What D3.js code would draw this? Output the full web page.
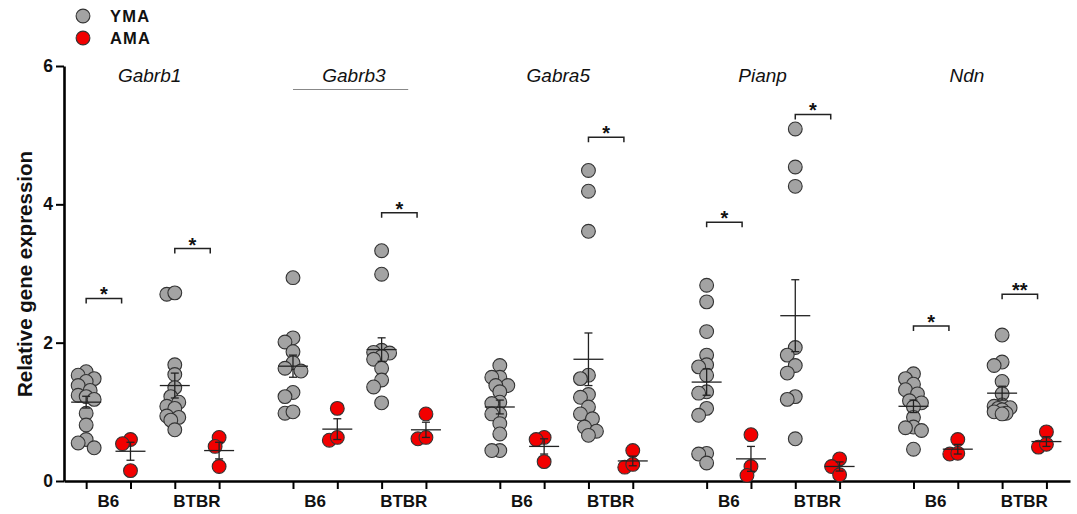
<!DOCTYPE html>
<html>
<head>
<meta charset="utf-8">
<script src="https://cdn.jsdelivr.net/npm/d3@7"></script>
<style>
  body { margin: 0; background: #fff; }
  svg { display: block; font-family: "Liberation Sans", Arial, sans-serif; }
</style>
</head>
<body>
<svg></svg>
<script>
var width = 1077,
    height = 514;

var genes = ["Gabrb1", "Gabrb3", "Gabra5", "Pianp", "Ndn"];
var strains = ["B6", "BTBR"];
var ages = ["YMA", "AMA"];
var yTicks = [0, 2, 4, 6];

// points per gene: B6 YMA, B6 AMA, BTBR YMA, BTBR AMA
var gabrb1 = [
    [1.58, 1.53, 1.48, 1.44, 1.38, 1.31, 1.24, 1.22, 1.18, 0.98, 0.81, 0.60, 0.55, 0.48],
    [0.60, 0.54, 0.15],
    [2.70, 2.72, 1.68, 1.54, 1.35, 1.22, 1.14, 1.08, 1.05, 0.94, 0.92, 0.88, 0.74],
    [0.63, 0.50, 0.21]
];
var gabrb3 = [
    [2.94, 2.07, 2.01, 1.87, 1.71, 1.63, 1.59, 1.28, 1.22, 0.98, 1.00],
    [1.05, 0.59, 0.63],
    [3.33, 2.99, 1.89, 1.86, 1.85, 1.80, 1.76, 1.63, 1.46, 1.36, 1.13],
    [0.97, 0.61, 0.63]
];
var gabra5 = [
    [1.67, 1.50, 1.50, 1.38, 1.38, 1.29, 1.14, 1.12, 0.97, 0.97, 0.83, 0.68, 0.44, 0.44],
    [0.63, 0.60, 0.28],
    [4.49, 4.19, 3.61, 1.53, 1.48, 1.25, 1.21, 1.07, 0.97, 0.90, 0.78, 0.72, 0.66],
    [0.44, 0.20, 0.24]
];
var pianp = [
    [2.83, 2.59, 2.16, 1.82, 1.68, 1.65, 1.53, 1.29, 1.27, 1.05, 0.95, 0.40, 0.39, 0.26],
    [0.67, 0.21, 0.08],
    [5.09, 4.54, 4.26, 1.93, 1.82, 1.67, 1.56, 1.22, 1.18, 0.61],
    [0.32, 0.21, 0.09]
];
var ndn = [
    [1.55, 1.48, 1.40, 1.32, 1.26, 1.16, 1.13, 1.07, 0.92, 0.78, 0.77, 0.73, 0.46],
    [0.60, 0.39, 0.40],
    [2.11, 1.72, 1.67, 1.44, 1.26, 1.10, 1.08, 1.06, 1.05, 1.03, 1.00, 0.98, 0.97],
    [0.71, 0.49, 0.53]
];
var points = [gabrb1, gabrb3, gabra5, pianp, ndn];

var means = [
    [1.14, 0.43, 1.38, 0.44],
    [1.66, 0.75, 1.90, 0.74],
    [1.07, 0.50, 1.76, 0.29],
    [1.43, 0.32, 2.39, 0.21],
    [1.08, 0.46, 1.27, 0.57]
];
var sems = [
    [0.085, 0.13, 0.18, 0.12],
    [0.16, 0.15, 0.17, 0.11],
    [0.10, 0.11, 0.38, 0.07],
    [0.19, 0.18, 0.52, 0.066],
    [0.09, 0.07, 0.10, 0.07]
];

// significance per strain (B6, BTBR): label and bracket height
var stars = [["*", "*"], ["", "*"], ["", "*"], ["*", "*"], ["*", "**"]];
var starHeights = [[2.64, 3.36], [null, 3.88], [null, 4.97], [3.74, 5.30], [2.24, 2.70]];

var colors = { YMA: "#a3a3a3", AMA: "#f20000" };
var geneGap = 4.667;
function pos(g, c) { return g * geneGap + c; }

var svg = d3.select("svg")
    .attr("width", width)
    .attr("height", height);

var x = d3.scaleLinear().domain([-0.5, 22.2]).range([64, 1070]);
var y = d3.scaleLinear().domain([0, 6]).range([481, 66]);

// compact beeswarm: offsets limited to +-8px, overlap allowed when crowded
function swarm(vals) {
    var cands = [0, -4, 4, -8, 8], minD = 9.5, placed = [], out = [];
    d3.range(vals.length)
        .sort((a, b) => vals[b] - vals[a])
        .forEach(function (i) {
            var cy = y(vals[i]);
            var best = 0, bestD = -1;
            for (var k = 0; k < cands.length; k++) {
                var off = cands[k];
                var dmin = d3.min(placed, p => Math.hypot(p.dx - off, p.cy - cy));
                if (dmin === undefined) dmin = Infinity;
                if (dmin >= minD) { best = off; break; }
                if (dmin > bestD + 0.5) { bestD = dmin; best = off; }
            }
            placed.push({ dx: best, cy: cy });
            out[i] = best;
        });
    return out;
}

// axes
var allPos = [];
genes.forEach((g, gi) => d3.range(4).forEach(c => allPos.push(pos(gi, c))));

var xAxis = svg.append("g")
    .attr("transform", "translate(0," + y(0) + ")")
    .call(d3.axisBottom(x).tickValues(allPos).tickSize(8).tickSizeOuter(0).tickFormat(""));
xAxis.select(".domain").attr("stroke-width", 2.6);
xAxis.selectAll(".tick line").attr("stroke-width", 2);

var yAxis = svg.append("g")
    .attr("transform", "translate(" + x(-0.5) + ",0)")
    .call(d3.axisLeft(y).tickValues(yTicks).tickFormat(d3.format("d"))
        .tickSize(8).tickSizeOuter(0).tickPadding(3));
yAxis.select(".domain").attr("stroke-width", 2.6);
yAxis.selectAll(".tick line").attr("stroke-width", 2);
yAxis.selectAll(".tick text")
    .attr("font-size", 17.5)
    .attr("font-weight", "bold")
    .attr("font-family", "'Liberation Sans', Arial, sans-serif")
    .attr("fill", "#111");

svg.append("text")
    .attr("transform", "translate(32," + 274 + ") rotate(-90)")
    .attr("text-anchor", "middle")
    .attr("font-size", 20.5)
    .attr("font-weight", "bold")
    .attr("fill", "#111")
    .text("Relative gene expression");

// strain labels and gene titles
genes.forEach(function (g, gi) {
    strains.forEach(function (s, si) {
        svg.append("text")
            .attr("x", x(pos(gi, si * 2 + 0.5)))
            .attr("y", 507)
            .attr("text-anchor", "middle")
            .attr("font-size", 17)
            .attr("font-weight", "bold")
            .attr("fill", "#111")
            .text(s);
    });
    svg.append("text")
        .attr("x", x(pos(gi, 1.5)) - 3 - gi * 2.5)
        .attr("y", 82)
        .attr("text-anchor", "middle")
        .attr("font-size", 19)
        .attr("font-style", "italic")
        .attr("fill", "#111")
        .text(g);
});

svg.append("line")
    .attr("x1", x(pos(1, 0)))
    .attr("x2", x(pos(1, 2.6)))
    .attr("y1", 89.5).attr("y2", 89.5)
    .attr("stroke", "#888")
    .attr("stroke-width", 1);

// points
var groups = [];
points.forEach(function (gene, gi) {
    gene.forEach(function (vals, c) {
        groups.push({ gene: gi, c: c, age: ages[c % 2], vals: vals, mean: means[gi][c], sem: sems[gi][c] });
    });
});

var gGroups = svg.selectAll("g.grp")
    .data(groups)
    .enter().append("g")
    .attr("class", "grp")
    .attr("transform", d => "translate(" + x(pos(d.gene, d.c)) + ",0)");

gGroups.each(function (d) {
    var offs = swarm(d.vals);
    d3.select(this).selectAll("circle")
        .data(d.vals)
        .enter().append("circle")
        .attr("cx", (v, i) => offs[i])
        .attr("cy", v => y(v))
        .attr("r", 6.9)
        .attr("fill", colors[d.age])
        .attr("stroke", "#333")
        .attr("stroke-width", 1.1);
});

// mean +/- SEM
gGroups.append("line")
    .attr("x1", 0).attr("x2", 0)
    .attr("y1", d => y(d.mean - d.sem))
    .attr("y2", d => y(d.mean + d.sem));
gGroups.append("line")
    .attr("x1", -4).attr("x2", 4)
    .attr("y1", d => y(d.mean + d.sem))
    .attr("y2", d => y(d.mean + d.sem));
gGroups.append("line")
    .attr("x1", -4).attr("x2", 4)
    .attr("y1", d => y(d.mean - d.sem))
    .attr("y2", d => y(d.mean - d.sem));
gGroups.append("line")
    .attr("x1", -15).attr("x2", 15)
    .attr("y1", d => y(d.mean))
    .attr("y2", d => y(d.mean));
gGroups.selectAll("line")
    .attr("stroke", "#222")
    .attr("stroke-width", 1.3);

// significance brackets
stars.forEach(function (row, gi) {
    row.forEach(function (lab, si) {
        if (!lab) return;
        var x0 = x(pos(gi, si * 2)),
            x1 = x(pos(gi, si * 2 + 0.8)),
            yb = y(starHeights[gi][si]);
        svg.append("path")
            .attr("d", "M" + x0 + "," + (yb + 5) + "V" + yb + "H" + x1 + "V" + (yb + 5))
            .attr("fill", "none")
            .attr("stroke", "#222")
            .attr("stroke-width", 1.5);
        svg.append("text")
            .attr("x", (x0 + x1) / 2)
            .attr("y", yb + 3)
            .attr("text-anchor", "middle")
            .attr("font-size", 20)
            .attr("font-weight", "bold")
            .attr("fill", "#111")
            .text(lab);
    });
});

// legend
var legend = svg.selectAll("g.legend")
    .data(ages)
    .enter().append("g")
    .attr("class", "legend")
    .attr("transform", (d, i) => "translate(83," + (16 + i * 22) + ")");
legend.append("circle")
    .attr("r", 6.9)
    .attr("fill", d => colors[d])
    .attr("stroke", "#333")
    .attr("stroke-width", 1.1);
legend.append("text")
    .attr("x", 27)
    .attr("y", 6)
    .attr("font-size", 16.5)
    .attr("font-weight", "bold")
    .attr("letter-spacing", 1.2)
    .attr("fill", "#111")
    .text(d => d);
</script>
</body>
</html>
